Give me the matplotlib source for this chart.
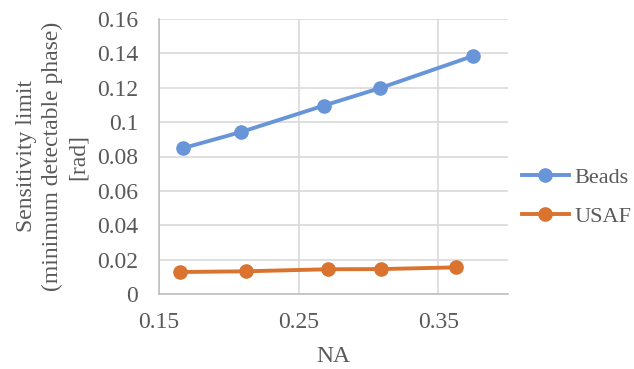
import matplotlib
matplotlib.use("Agg")
import matplotlib.pyplot as plt

# values
beads_na = [0.167, 0.209, 0.268, 0.308, 0.375]
beads_phase = [0.0848, 0.0943, 0.1096, 0.1197, 0.1385]
usaf_na = [0.165, 0.212, 0.271, 0.309, 0.363]
usaf_phase = [0.0128, 0.0132, 0.0144, 0.0145, 0.0155]

x_ticks = [0.15, 0.25, 0.35]
y_ticks = [0, 0.02, 0.04, 0.06, 0.08, 0.1, 0.12, 0.14, 0.16]
y_tick_labels = ["0", "0.02", "0.04", "0.06", "0.08", "0.1", "0.12", "0.14", "0.16"]

TEXT = "#595959"
GRID = "#d9d9d9"
BLUE = "#6795d8"
ORANGE = "#d9732f"
FS = 17

plt.rcParams["font.family"] = ["Liberation Serif", "DejaVu Serif"]

fig = plt.figure(figsize=(6.34, 3.69), dpi=100)
ax = fig.add_axes([159 / 634, 1 - 294 / 369, (508 - 159) / 634, (294 - 19) / 369])

ax.plot(beads_na, beads_phase, color=BLUE, lw=2.8, marker="o", ms=9.5, label="Beads")
ax.plot(usaf_na, usaf_phase, color=ORANGE, lw=2.8, marker="o", ms=9.5, label="USAF")

ax.set_xlim(0.15, 0.40)
ax.set_ylim(0, 0.16)
ax.set_xticks(x_ticks)
ax.set_xticklabels([f"{v:.2f}" for v in x_ticks])
ax.set_yticks(y_ticks)
ax.set_yticklabels(y_tick_labels)
ax.tick_params(length=0, labelsize=FS, labelcolor=TEXT)
ax.tick_params(axis="y", pad=15)
ax.tick_params(axis="x", pad=13)

ax.grid(True, color=GRID, lw=1.2)
ax.set_axisbelow(True)
for side in ["top", "right"]:
    ax.spines[side].set_visible(False)
for side in ["left", "bottom"]:
    ax.spines[side].set_color("#bfbfbf")
    ax.spines[side].set_linewidth(1.2)

ax.set_xlabel("NA", fontsize=FS, color=TEXT, labelpad=9)
ax.set_ylabel("Sensitivity limit\n(minimum detectable phase)\n[rad]",
              fontsize=FS, color=TEXT, labelpad=6, linespacing=1.3)

leg = ax.legend(loc="center left", bbox_to_anchor=(1.04, 0.352), frameon=False,
                fontsize=16, handlelength=2.1, labelspacing=0.85, handletextpad=0.25,
                borderpad=0, borderaxespad=0)
for t in leg.get_texts():
    t.set_color(TEXT)

fig.savefig("out.png", dpi=100)
